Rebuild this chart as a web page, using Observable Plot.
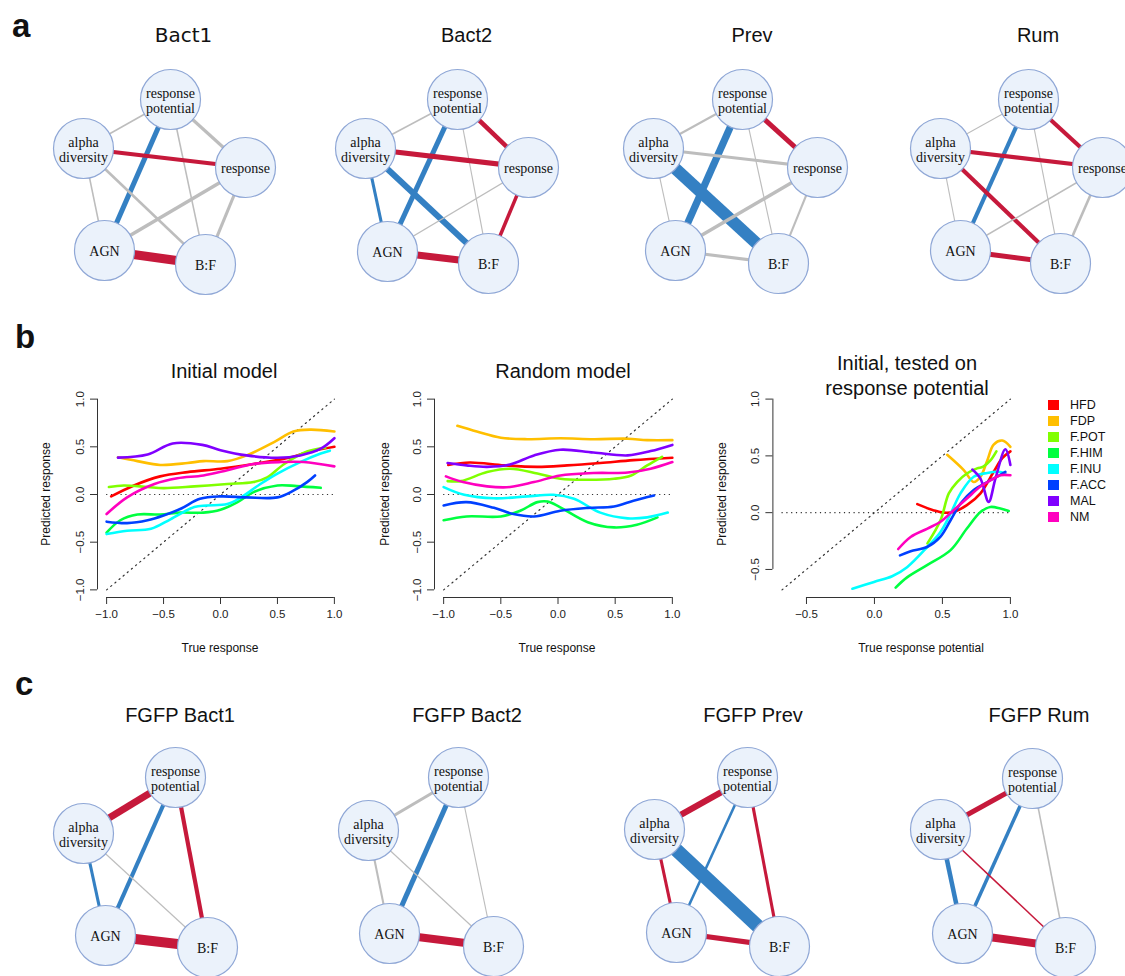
<!DOCTYPE html>
<html><head><meta charset="utf-8">
<script src="https://cdn.jsdelivr.net/npm/d3@7"></script>
<script src="https://cdn.jsdelivr.net/npm/@observablehq/plot@0.6"></script>
<style>
body{margin:0;background:#fff;}
#root{position:relative;width:1125px;height:976px;overflow:hidden;background:#fff;}
</style></head><body><div id="root"></div>
<script>
// ---------- DATA ----------
const seriesNames = ["HFD","FDP","F.POT","F.HIM","F.INU","F.ACC","MAL","NM"];
const seriesColors = ["#ff0000","#ffbf00","#80ff00","#00ff40","#00ffff","#0040ff","#8000ff","#ff00bf"];

const initialModel = {
  "HFD":   [[-0.96,-0.02],[-0.76,0.095],[-0.53,0.19],[-0.29,0.235],[0,0.27],[0.29,0.32],[0.58,0.38],[0.79,0.45],[1.0,0.50]],
  "FDP":   [[-0.90,0.39],[-0.73,0.35],[-0.53,0.31],[-0.29,0.33],[-0.15,0.35],[0.06,0.35],[0.23,0.41],[0.47,0.55],[0.64,0.66],[0.79,0.68],[1.0,0.66]],
  "F.POT": [[-0.98,0.078],[-0.85,0.095],[-0.64,0.078],[-0.5,0.067],[-0.23,0.085],[0.06,0.11],[0.29,0.13],[0.41,0.18],[0.56,0.32],[0.76,0.45],[0.92,0.49]],
  "F.HIM": [[-1,-0.40],[-0.88,-0.27],[-0.73,-0.21],[-0.53,-0.21],[-0.35,-0.19],[-0.15,-0.19],[0,-0.16],[0.15,-0.08],[0.29,0.025],[0.5,0.095],[0.67,0.088],[0.88,0.07]],
  "F.INU": [[-1,-0.415],[-0.82,-0.38],[-0.61,-0.36],[-0.44,-0.26],[-0.23,-0.13],[-0.12,-0.115],[0.06,-0.10],[0.18,-0.03],[0.35,0.11],[0.5,0.22],[0.7,0.34],[0.88,0.43],[0.96,0.46]],
  "F.ACC": [[-1,-0.285],[-0.82,-0.30],[-0.64,-0.27],[-0.5,-0.22],[-0.35,-0.15],[-0.18,-0.045],[0,-0.02],[0.23,-0.03],[0.5,-0.03],[0.64,0.04],[0.76,0.13],[0.83,0.20]],
  "MAL":   [[-0.9,0.387],[-0.64,0.42],[-0.42,0.535],[-0.16,0.52],[0,0.465],[0.23,0.41],[0.5,0.385],[0.7,0.41],[0.88,0.48],[1.0,0.59]],
  "NM":    [[-1,-0.205],[-0.82,-0.03],[-0.58,0.11],[-0.38,0.17],[-0.15,0.2],[0.06,0.255],[0.29,0.32],[0.53,0.34],[0.73,0.34],[1.0,0.295]]
};
const randomModel = {
  "HFD":   [[-0.96,0.31],[-0.77,0.335],[-0.47,0.305],[-0.18,0.29],[0.08,0.305],[0.37,0.33],[0.66,0.36],[1.0,0.385]],
  "FDP":   [[-0.88,0.72],[-0.71,0.66],[-0.5,0.595],[-0.27,0.58],[0.02,0.59],[0.31,0.58],[0.61,0.585],[0.78,0.57],[1.0,0.57]],
  "F.POT": [[-0.965,0.14],[-0.85,0.14],[-0.62,0.235],[-0.42,0.27],[-0.18,0.22],[0.02,0.165],[0.26,0.155],[0.49,0.165],[0.64,0.2],[0.78,0.305],[0.91,0.395]],
  "F.HIM": [[-1,-0.27],[-0.8,-0.23],[-0.5,-0.23],[-0.33,-0.17],[-0.18,-0.08],[-0.09,-0.074],[0.02,-0.135],[0.26,-0.29],[0.49,-0.345],[0.69,-0.317],[0.87,-0.24]],
  "F.INU": [[-1,0.078],[-0.82,-0.003],[-0.56,-0.04],[-0.27,-0.02],[-0.04,-0.003],[0.14,-0.045],[0.37,-0.19],[0.61,-0.25],[0.78,-0.24],[0.96,-0.19]],
  "F.ACC": [[-1,-0.115],[-0.8,-0.08],[-0.56,-0.14],[-0.39,-0.205],[-0.21,-0.23],[0.02,-0.17],[0.26,-0.14],[0.49,-0.125],[0.66,-0.065],[0.84,-0.01]],
  "MAL":   [[-0.965,0.33],[-0.8,0.305],[-0.62,0.29],[-0.42,0.315],[-0.21,0.41],[0.02,0.47],[0.31,0.44],[0.61,0.41],[0.81,0.455],[1.0,0.52]],
  "NM":    [[-0.98,0.19],[-0.83,0.13],[-0.62,0.085],[-0.42,0.078],[-0.21,0.13],[0.02,0.2],[0.31,0.225],[0.61,0.23],[0.81,0.27],[1.0,0.34]]
};
const testedOnPotential = {
  "HFD":   [[0.315,0.075],[0.437,0.02],[0.51,0.0],[0.584,0.007],[0.68,0.066],[0.78,0.17],[0.877,0.36],[0.94,0.48],[1.0,0.54]],
  "FDP":   [[0.535,0.51],[0.657,0.375],[0.73,0.27],[0.78,0.316],[0.83,0.46],[0.877,0.6],[0.94,0.635],[1.0,0.58]],
  "F.POT": [[0.39,-0.27],[0.486,-0.067],[0.547,0.17],[0.608,0.27],[0.68,0.345],[0.755,0.39],[0.8,0.405],[0.853,0.46],[0.897,0.54]],
  "F.HIM": [[0.156,-0.66],[0.24,-0.57],[0.39,-0.46],[0.56,-0.33],[0.68,-0.14],[0.78,0.006],[0.853,0.05],[0.927,0.036],[0.988,0.015]],
  "F.INU": [[-0.162,-0.67],[-0.003,-0.61],[0.13,-0.56],[0.24,-0.48],[0.39,-0.3],[0.486,-0.17],[0.56,-0.009],[0.633,0.17],[0.73,0.316],[0.83,0.35],[0.914,0.36],[0.963,0.346]],
  "F.ACC": [[0.188,-0.376],[0.266,-0.34],[0.39,-0.3],[0.486,-0.21],[0.56,-0.067],[0.633,0.08],[0.73,0.2],[0.83,0.27],[0.9,0.316],[0.963,0.36]],
  "MAL":   [[0.72,0.38],[0.78,0.3],[0.84,0.095],[0.89,0.3],[0.963,0.558],[1.0,0.42]],
  "NM":    [[0.175,-0.32],[0.266,-0.214],[0.39,-0.14],[0.486,-0.08],[0.584,0.024],[0.68,0.125],[0.78,0.23],[0.877,0.3],[0.927,0.33],[1.0,0.33]]
};
const ticksFull = [-1,-0.5,0,0.5,1];
const ticksPotential = [-0.5,0,0.5,1];

// network nodes
const nodesFull = ["response potential","alpha diversity","response","AGN","B:F"];
const nodesFGFP = ["response potential","alpha diversity","AGN","B:F"];
// node layouts (panel-local layout units), same order as node lists
const layoutBact1 = [[170,99],[83,148],[245,167],[104,250],[205,264]];
const layoutBact2 = [[177,99],[85,148],[248,167],[107,251],[208,263]];
const layoutPrev  = [[172,99],[83,148],[247,167],[105,250],[208,263]];
const layoutRum   = [[178,99],[90,148],[252,167],[110,250],[210,263]];
const layoutFGFPBact1 = [[175,107],[83,163],[105,265],[207,277]];
const layoutFGFPBact2 = [[158,107],[68,160],[89,263],[193,276]];
const layoutFGFPPrev  = [[167,107],[74,159],[96,262],[199,276]];
const layoutFGFPRum   = [[172,108],[80,159],[102,263],[205,277]];
// edges: [source, target, signed strength, significant]
const edgesBact1 = [
  ["response potential","alpha diversity",0.05,false],["response potential","response",0.17,false],
  ["response potential","AGN",-0.32,true],["response potential","B:F",0.05,false],
  ["alpha diversity","response",0.25,true],["alpha diversity","AGN",0.05,false],
  ["alpha diversity","B:F",0.13,false],["response","AGN",0.2,false],
  ["response","B:F",0.17,false],["AGN","B:F",0.63,true]];
const edgesBact2 = [
  ["response potential","alpha diversity",0.05,false],["response potential","response",0.28,true],
  ["response potential","AGN",-0.32,true],["response potential","B:F",0.02,false],
  ["alpha diversity","response",0.32,true],["alpha diversity","AGN",-0.17,true],
  ["alpha diversity","B:F",-0.4,true],["response","AGN",0.04,false],
  ["response","B:F",0.2,true],["AGN","B:F",0.48,true]];
const edgesPrev = [
  ["response potential","alpha diversity",0.09,false],["response potential","response",0.32,true],
  ["response potential","AGN",-0.48,true],["response potential","B:F",0.02,false],
  ["alpha diversity","response",0.17,false],["alpha diversity","AGN",0.02,false],
  ["alpha diversity","B:F",-0.86,true],["response","AGN",0.2,false],
  ["response","B:F",0.09,false],["AGN","B:F",0.17,false]];
const edgesRum = [
  ["response potential","alpha diversity",0.02,false],["response potential","response",0.25,true],
  ["response potential","AGN",-0.25,true],["response potential","B:F",0.02,false],
  ["alpha diversity","response",0.25,true],["alpha diversity","AGN",0.02,false],
  ["alpha diversity","B:F",0.25,true],["response","AGN",0.05,false],
  ["response","B:F",0.13,false],["AGN","B:F",0.32,true]];
const edgesFGFPBact1 = [
  ["response potential","alpha diversity",0.48,true],["response potential","AGN",-0.25,true],
  ["response potential","B:F",0.25,true],["alpha diversity","AGN",-0.17,true],
  ["alpha diversity","B:F",0.02,false],["AGN","B:F",0.71,true]];
const edgesFGFPBact2 = [
  ["response potential","alpha diversity",0.17,false],["response potential","AGN",-0.32,true],
  ["response potential","B:F",0.02,false],["alpha diversity","AGN",0.09,false],
  ["alpha diversity","B:F",0.02,false],["AGN","B:F",0.55,true]];
const edgesFGFPPrev = [
  ["response potential","alpha diversity",0.4,true],["response potential","AGN",-0.13,true],
  ["response potential","B:F",0.17,true],["alpha diversity","AGN",0.17,true],
  ["alpha diversity","B:F",-1.0,true],["AGN","B:F",0.32,true]];
const edgesFGFPRum = [
  ["response potential","alpha diversity",0.32,true],["response potential","AGN",-0.2,true],
  ["response potential","B:F",0.05,false],["alpha diversity","AGN",-0.28,true],
  ["alpha diversity","B:F",0.05,true],["AGN","B:F",0.55,true]];

// ---------- DRAWING ----------
const RED = "#c6193b", BLUE = "#3480c3", GRAY = "#bdbdbd";
const root = document.getElementById("root");
function place(el, left, top) {
  el.style.position = "absolute"; el.style.left = left + "px"; el.style.top = top + "px";
  root.appendChild(el);
}

function network(nodes, layout, edges, W, H) {
  const pos = new Map(nodes.map((n, i) => [n, layout[i]]));
  const nodeRows = nodes.map(n => ({name: n, x: pos.get(n)[0], y: pos.get(n)[1]}));
  return Plot.plot({
    width: W, height: H, margin: 0,
    x: {domain: [0, W], axis: null},
    y: {domain: [0, H], axis: null, reverse: true},
    color: {type: "identity"},
    style: {background: "transparent", overflow: "visible"},
    marks: [
      Plot.link(edges, {
        x1: d => pos.get(d[0])[0], y1: d => pos.get(d[0])[1],
        x2: d => pos.get(d[1])[0], y2: d => pos.get(d[1])[1],
        stroke: d => d[3] ? (d[2] > 0 ? RED : BLUE) : GRAY,
        strokeWidth: d => 0.9 + 13 * Math.abs(d[2])
      }),
      Plot.dot(nodeRows, {x: "x", y: "y", r: 30, fill: "#ebf2fb", stroke: "#8fa7d6", strokeWidth: 1.2}),
      Plot.text(nodeRows, {x: "x", y: "y", dy: 1, text: d => d.name.replace(" ", "\n"),
        fontFamily: "Liberation Serif, Times New Roman, serif", fontSize: 14, lineHeight: 1.07, fill: "#111"})
    ]
  });
}

place(network(nodesFull, layoutBact1, edgesBact1, 285, 300), 0, 0);
place(network(nodesFull, layoutBact2, edgesBact2, 285, 300), 280, 0);
place(network(nodesFull, layoutPrev, edgesPrev, 285, 300), 570, 0);
place(network(nodesFull, layoutRum, edgesRum, 285, 300), 850, 0);
place(network(nodesFGFP, layoutFGFPBact1, edgesFGFPBact1, 290, 306), 0, 670);
place(network(nodesFGFP, layoutFGFPBact2, edgesFGFPBact2, 290, 306), 300, 670);
place(network(nodesFGFP, layoutFGFPPrev, edgesFGFPPrev, 290, 306), 580, 670);
place(network(nodesFGFP, layoutFGFPRum, edgesFGFPRum, 265, 306), 860, 670);

const fmt = d => d3.format(".1f")(d);
function scatter(series, {width, marginLeft, marginRight, dom, lim, xticks, yticks}) {
  const rows = [];
  seriesNames.forEach(s => series[s].forEach(([x, y]) => rows.push({s, x, y})));
  const diag = lim.map(v => ({x: v, y: v}));
  return Plot.plot({
    width, height: 320, marginLeft, marginRight, marginTop: 41, marginBottom: 73,
    x: {domain: dom}, y: {domain: dom},
    color: {domain: seriesNames, range: seriesColors},
    style: {background: "transparent", overflow: "visible", fontFamily: "Liberation Sans, Arial, sans-serif", fontSize: "11.5px", color: "#222"},
    marks: [
      Plot.ruleY([0], {x1: lim[0], x2: lim[1], stroke: "#333", strokeWidth: 1.2, strokeDasharray: "1.2,3.6"}),
      Plot.line(diag, {x: "x", y: "y", stroke: "#333", strokeWidth: 1.2, strokeDasharray: "1.2,4.2"}),
      Plot.line(rows, {x: "x", y: "y", z: "s", stroke: "s", strokeWidth: 2.6, curve: "catmull-rom"}),
      Plot.ruleX([dom[0]], {y1: yticks[0], y2: yticks[yticks.length - 1], stroke: "#333"}),
      Plot.ruleY([dom[0]], {x1: xticks[0], x2: xticks[xticks.length - 1], stroke: "#333"}),
      Plot.axisX(xticks, {tickSize: 7, tickPadding: 5, tickFormat: fmt, stroke: "#333", label: null}),
      Plot.axisY(yticks, {tickSize: 7, tickPadding: 7, tickRotate: -90, tickFormat: fmt, stroke: "#333", label: null})
    ]
  });
}

place(scatter(initialModel, {width: 365, marginLeft: 97, marginRight: 22, dom: [-1.08, 1.08], lim: [-1, 1], xticks: ticksFull, yticks: ticksFull}), 0, 350);
place(scatter(randomModel, {width: 340, marginLeft: 74, marginRight: 19, dom: [-1.08, 1.08], lim: [-1, 1], xticks: ticksFull, yticks: ticksFull}), 360, 350);
place(scatter(testedOnPotential, {width: 340, marginLeft: 72.4, marginRight: 21, dom: [-0.747, 1.067], lim: [-0.68, 1], xticks: ticksPotential, yticks: ticksPotential}), 700, 350);

// ---------- TEXT OVERLAY ----------
const svg = d3.select(root).append("svg")
  .attr("width", 1125).attr("height", 976)
  .style("position", "absolute").style("left", 0).style("top", 0).style("pointer-events", "none")
  .attr("font-family", "Liberation Sans, Arial, sans-serif").attr("fill", "#111");

function txt(x, y, s, size, opts = {}) {
  const t = svg.append("text").attr("x", x).attr("y", y).attr("font-size", size)
    .attr("text-anchor", opts.anchor || "middle").text(s);
  if (opts.weight) t.attr("font-weight", opts.weight);
  if (opts.family) t.attr("font-family", opts.family);
  if (opts.rotate) t.attr("transform", `rotate(${opts.rotate},${x},${y})`);
  return t;
}
// panel letters
txt(12, 37, "a", 33, {anchor: "start", weight: "bold"});
txt(15, 348, "b", 33, {anchor: "start", weight: "bold"});
txt(15, 695, "c", 33, {anchor: "start", weight: "bold"});
// network titles
txt(183.5, 42, "Bact1", 20, {family: "DejaVu Sans, sans-serif"});
txt(466.5, 42, "Bact2", 20);
txt(752, 42, "Prev", 20);
txt(1038, 42, "Rum", 20);
txt(180, 722, "FGFP Bact1", 20);
txt(467, 722, "FGFP Bact2", 20);
txt(753, 722, "FGFP Prev", 20);
txt(1039, 722, "FGFP Rum", 20);
// panel b titles
txt(224, 378, "Initial model", 20);
txt(563, 378, "Random model", 20);
txt(907, 370, "Initial, tested on", 20);
txt(907, 395, "response potential", 20);
// axis titles
txt(220, 652, "True response", 12);
txt(557, 652, "True response", 12);
txt(921, 652, "True response potential", 12);
txt(50, 494, "Predicted response", 12, {rotate: -90});
txt(389, 494, "Predicted response", 12, {rotate: -90});
txt(726, 494, "Predicted response", 12, {rotate: -90});
// legend
seriesNames.forEach((s, i) => {
  svg.append("rect").attr("x", 1048).attr("y", 400 + 16 * i).attr("width", 11).attr("height", 10).attr("fill", seriesColors[i]);
  txt(1070, 409 + 16 * i, s, 12.5, {anchor: "start"});
});
</script></body></html>
